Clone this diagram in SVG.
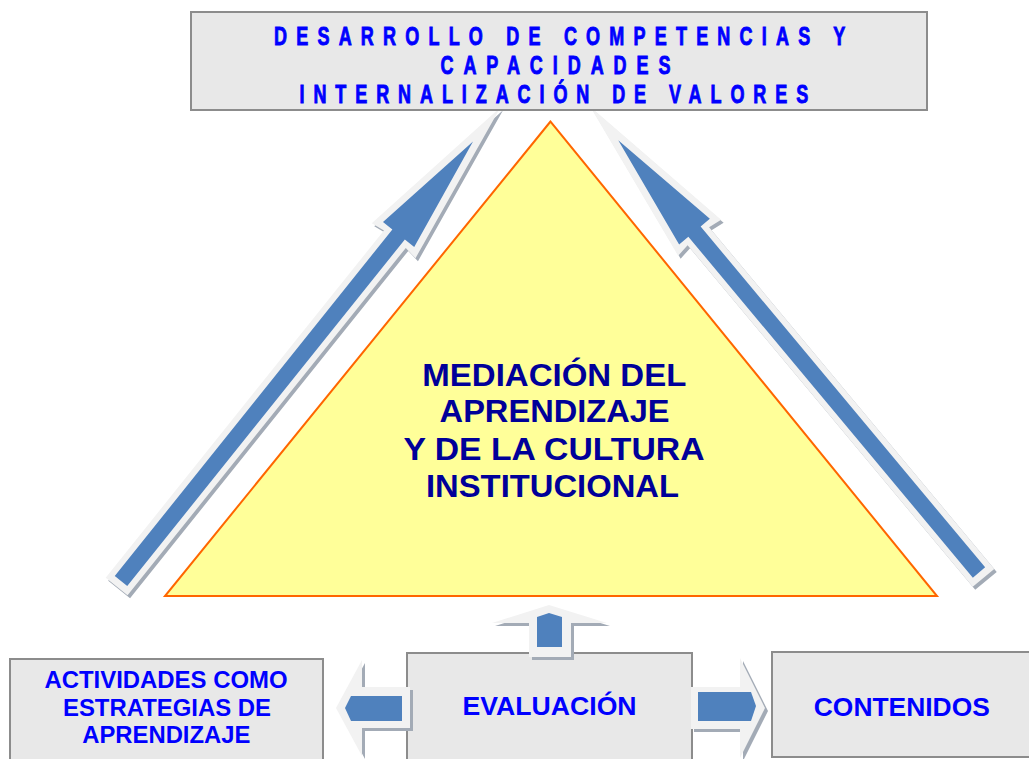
<svg xmlns="http://www.w3.org/2000/svg" xmlns:xlink="http://www.w3.org/1999/xlink" width="1029" height="759" viewBox="0 0 1029 759">
<style>
.box{fill:#e8e8e8;stroke:#8c8c8c;stroke-width:2}
.tri{fill:#ffff99;stroke:#ff6600;stroke-width:2;stroke-linejoin:miter}
.lbl{font-family:"Liberation Sans",Arial,sans-serif;font-weight:bold;fill:#0000ff}
.top{font-size:25px;stroke:#0000ff;stroke-width:0.9}
.mid{font-size:32px;fill:#000099}
.bot{font-size:25px}
.act{font-size:24px}
.outer{fill:#f2f2f2}
.shadow{fill:#a3abb6}
.blue{fill:#4f81bd}
</style>
<defs>
<path id="diagOuter" d="M-7,-14 L438,-14 L436,-28 L607,0 L436,28 L438,14 L-7,14 Z"/>
<path id="diagBlue" d="M0,-8 L444,-8 L444,-20 L563,0 L444,20 L444,8 L0,8 Z"/>
<path id="upOuter" d="M529,657 L529,623 L492,623 L549,605 L607,623 L571,623 L571,657 Z"/>
<path id="leftOuter" d="M410,687 L362,687 L362,660 L336,708 L362,756 L362,728 L410,728 Z"/>
<path id="rightOuter" d="M691,687 L740,687 L740,658 L765,708 L740,758 L740,729 L691,729 Z"/>
</defs>

<g id="connectors-diagonal">
  <use xlink:href="#diagOuter" class="shadow" transform="translate(2.5,3) translate(121,581) rotate(-51.3)"/>
  <use xlink:href="#diagOuter" class="outer" transform="translate(121,581) rotate(-51.3)"/>
  <use xlink:href="#diagBlue" class="blue" transform="translate(121,581) rotate(-51.3)"/>
  <use xlink:href="#diagOuter" class="shadow" transform="translate(2.5,3) translate(979,572.5) rotate(-129.85)"/>
  <use xlink:href="#diagOuter" class="outer" transform="translate(979,572.5) rotate(-129.85)"/>
  <use xlink:href="#diagBlue" class="blue" transform="translate(979,572.5) rotate(-129.85)"/>
</g>

<g id="node-desarrollo">
  <rect class="box" x="191" y="12" width="736" height="98"/>
  <text class="lbl top" transform="translate(274,44.5) scale(0.72,1)" x="0" y="0" letter-spacing="12.8">DESARROLLO DE COMPETENCIAS Y</text>
  <text class="lbl top" transform="translate(440.5,74.3) scale(0.72,1)" x="0" y="0" letter-spacing="13.8">CAPACIDADES</text>
  <text class="lbl top" transform="translate(299.5,103.3) scale(0.72,1)" x="0" y="0" letter-spacing="12.4">INTERNALIZACIÓN DE VALORES</text>
</g>

<g id="node-mediacion">
  <polygon class="tri" points="550.5,121.5 165,596 937,596"/>
  <text class="lbl mid" text-anchor="middle" x="554.3" y="385.5" textLength="264" lengthAdjust="spacingAndGlyphs">MEDIACIÓN DEL</text>
  <text class="lbl mid" text-anchor="middle" x="554.6" y="421.5" textLength="230" lengthAdjust="spacingAndGlyphs">APRENDIZAJE</text>
  <text class="lbl mid" text-anchor="middle" x="554" y="459.5" textLength="301" lengthAdjust="spacingAndGlyphs">Y DE LA CULTURA</text>
  <text class="lbl mid" text-anchor="middle" x="552.5" y="497" textLength="253" lengthAdjust="spacingAndGlyphs">INSTITUCIONAL</text>
</g>

<g id="node-actividades">
  <rect class="box" x="10" y="659" width="313" height="120"/>
  <text class="lbl act" text-anchor="middle" x="166" y="688" textLength="243" lengthAdjust="spacingAndGlyphs">ACTIVIDADES COMO</text>
  <text class="lbl act" text-anchor="middle" x="167" y="715.5" textLength="208" lengthAdjust="spacingAndGlyphs">ESTRATEGIAS DE</text>
  <text class="lbl act" text-anchor="middle" x="166.3" y="743" textLength="168" lengthAdjust="spacingAndGlyphs">APRENDIZAJE</text>
</g>

<g id="node-evaluacion">
  <rect class="box" x="407" y="653" width="285" height="120"/>
  <text class="lbl bot" text-anchor="middle" x="549.6" y="714.5" textLength="174" lengthAdjust="spacingAndGlyphs">EVALUACIÓN</text>
</g>

<g id="node-contenidos">
  <rect class="box" x="772" y="652" width="260" height="105"/>
  <text class="lbl bot" text-anchor="middle" x="901.8" y="716" textLength="176" lengthAdjust="spacingAndGlyphs">CONTENIDOS</text>
</g>

<g id="connectors-bottom">
  <use xlink:href="#upOuter" class="shadow" transform="translate(3,3)"/>
  <use xlink:href="#upOuter" class="outer"/>
  <path class="blue" d="M537,647 L537,617 L549,613 L562,617 L562,647 Z"/>
  <use xlink:href="#leftOuter" class="shadow" transform="translate(3,3)"/>
  <use xlink:href="#leftOuter" class="outer"/>
  <path class="blue" d="M402,696 L351,696 L345,708 L351,721 L402,721 Z"/>
  <use xlink:href="#rightOuter" class="shadow" transform="translate(3,3)"/>
  <use xlink:href="#rightOuter" class="outer"/>
  <path class="blue" d="M698,692 L751,692 L756,706 L751,721 L698,721 Z"/>
</g>
</svg>
